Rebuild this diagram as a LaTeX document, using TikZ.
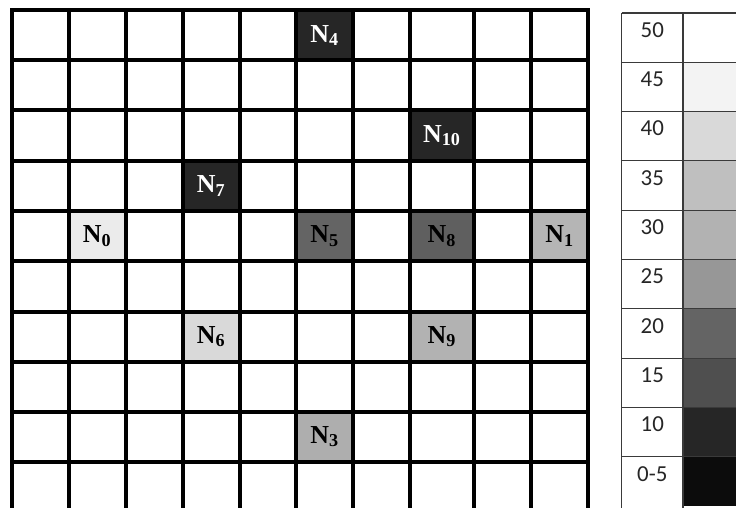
\documentclass[tikz,border=0pt]{standalone}
\usepackage{fontspec}
\setmainfont{Liberation Serif}
\newfontfamily\keyfont{Carlito}
\definecolor{ink}{HTML}{000000}
\definecolor{rule}{HTML}{3A3A3A}
\definecolor{g45}{HTML}{F3F3F3}
\definecolor{g40}{HTML}{D9D9D9}
\definecolor{g35}{HTML}{BFBFBF}
\definecolor{g30}{HTML}{B2B2B2}
\definecolor{g25}{HTML}{979797}
\definecolor{g20}{HTML}{646464}
\definecolor{g15}{HTML}{4F4F4F}
\definecolor{g10}{HTML}{262626}
\definecolor{g05}{HTML}{0C0C0C}
\newcommand\nodelbl[1]{N\textsubscript{#1}}

\begin{document}
\begin{tikzpicture}[x=1bp,y=-1bp,
  cell/.style={minimum width=57bp,minimum height=50bp,inner sep=0pt,
    font=\fontsize{26}{26}\selectfont\bfseries,text=ink},
  wide/.style={minimum width=63.5bp},
  darkcell/.style={cell,fill=g10,text=white},
  gridline/.style={line width=4bp,line cap=rect,ink}]
  \useasboundingbox (0,0) rectangle (736,508);
  % sensor cells
  \node[darkcell] (n4) at (324.5,35.5) {\nodelbl{4}};
  \node[darkcell,wide] (n10) at (441.75,135.6) {\nodelbl{10}};
  \node[darkcell] (n7) at (211,186) {\nodelbl{7}};
  \node[cell,fill=g45!70!g40] (n0) at (97,236) {\nodelbl{0}};
  \node[cell,fill=g20] (n5) at (324.5,236) {\nodelbl{5}};
  \node[cell,wide,fill=g20!95!black] (n8) at (441.75,236) {\nodelbl{8}};
  \node[cell,fill=g30!80!g35] (n1) at (559.5,236) {\nodelbl{1}};
  \node[cell,fill=g40] (n6) at (211,336.6) {\nodelbl{6}};
  \node[cell,wide,fill=g30] (n9) at (441.75,336.6) {\nodelbl{9}};
  \node[cell,fill=g30!85!g25] (n3) at (324.5,436.6) {\nodelbl{3}};
  % grid
  \foreach \x in {11.7,68.5,125.5,182.5,239.5,296,353,410,473.5,531,588}
    \draw[gridline] (\x,10.5) -- (\x,514);
  \foreach \y in {10.5,60.5,110.5,160.8,211,261,311.5,361.7,411.5,461.7}
    \draw[gridline] (11.7,\y) -- (588,\y);
  % legend
  \foreach \y/\c/\t in {13/white/50,62.3/g45/45,111.6/g40/40,160.9/g35/35,
      210.2/g30/30,259.5/g25/25,308.8/g20/20,358.1/g15/15,407.4/g10/10,456.7/g05/0-5}{
    \fill[\c] (683,\y) rectangle (740,\y+49.3);
    \draw[rule,line width=1.2bp] (621.7,\y) -- (740,\y);
    \node[font=\keyfont\fontsize{23}{23}\selectfont,text=ink!85] (key\t) at (652.3,\y+17) {\t};
  }
  \draw[rule,line width=1.2bp] (621.7,13) -- (621.7,512) (683,13) -- (683,512);
\end{tikzpicture}
\end{document}
